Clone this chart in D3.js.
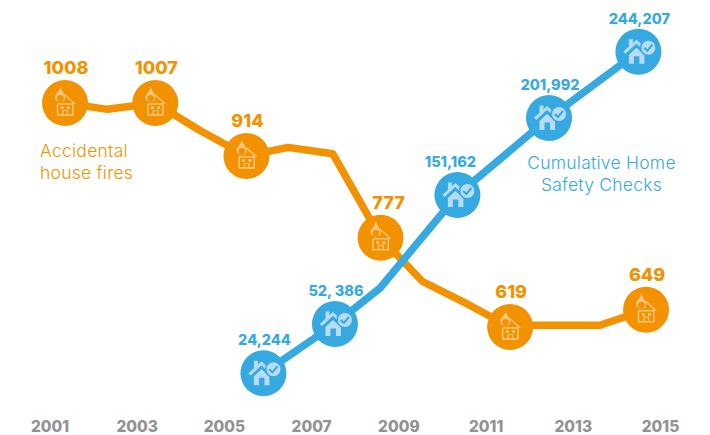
<!DOCTYPE html>
<html>
<head>
<meta charset="utf-8">
<script src="https://cdn.jsdelivr.net/npm/d3@7/dist/d3.min.js"></script>
<style>
    html, body { margin: 0; padding: 0; background: #ffffff; }
    svg { display: block; font-family: "Inter", "Open Sans", sans-serif; }
</style>
</head>
<body>
<svg id="chart" width="710" height="435"></svg>
<script>
// tick labels along the bottom
var tickYears = [2001, 2003, 2005, 2007, 2009, 2011, 2013, 2015];

// accidental house fires, heights
var fireSteps = [0, 0.95, 2.02, 3, 4.06, 4.99, 5.99, 7.06, 8, 9, 9.96, 10.45, 11.97, 13];
var fireValues = [1008, 997, 1008, 961, 916, 931, 920, 774, 698, 659, 619, 622, 622, 649];
var fireMarked = [0, 2, 4, 7, 10, 13];
var fireLabels = ["1008", "1007", "914", "777", "619", "649"];

// cumulative home safety checks, heights
var checkSteps = [4.44, 6.04, 7.05, 8.78, 10.83, 12.83];
var checkValues = [24244, 57965, 82590, 146200, 198900, 244207];
var checkMarked = [0, 1, 3, 4, 5];
var checkLabels = ["24,244", "52, 386", "151,162", "201,992", "244,207"];

var orange = "#f39200";
var blue = "#36a9e1";
var orangeIcon = "#fac880";
var blueIcon = "#b7dcf5";

var svg = d3.select("#chart");

var stepX = d3.scaleLinear().domain([0, 13]).range([65, 646]);
var tickX = d3.scalePoint().domain(tickYears).range([49.5, 660]);
var fireY = d3.scaleLinear().domain([619, 1008]).range([327, 103]);
var checkY = d3.scaleLinear().domain([24244, 244207]).range([373.3, 51.7]);

var line = d3.line();

// bottom axis, no line or tick marks, only the labels
var xAxis = d3.axisBottom(tickX).tickSize(0).tickPadding(0);
var axisG = svg.append("g").attr("transform", "translate(0,418)").call(xAxis);
axisG.select(".domain").remove();
axisG.selectAll("text")
    .attr("dy", 0)
    .attr("y", 14)
    .style("font-size", "15.5px")
    .style("font-weight", 800)
    .style("font-family", "Inter, sans-serif")
    .style("fill", "#929292");

var firePts = fireSteps.map(function(d, i) { return [stepX(d), fireY(fireValues[i])]; });
var checkPts = checkSteps.map(function(d, i) { return [stepX(d), checkY(checkValues[i])]; });

svg.append("path").attr("d", line(firePts))
    .attr("fill", "none").attr("stroke", orange).attr("stroke-width", 7.5).attr("stroke-linejoin", "round");
svg.append("path").attr("d", line(checkPts))
    .attr("fill", "none").attr("stroke", blue).attr("stroke-width", 7.5).attr("stroke-linejoin", "round");

// house with a flame on the roof
function fireIcon(g) {
    g.append("path").attr("d", "M-5,-5 L0,-8 L9,0 L7.8,0 L7.8,12 L-7.5,12 L-7.5,1")
        .attr("fill", "none").attr("stroke", orangeIcon).attr("stroke-width", 1.4);
    g.append("path").attr("d", "M-7.5,1 L7.8,1").attr("stroke", orangeIcon).attr("stroke-width", 1.4);
    g.append("rect").attr("x", -4.2).attr("y", 3.4).attr("width", 2.8).attr("height", 2.6).attr("fill", orangeIcon);
    g.append("rect").attr("x", 2).attr("y", 3.4).attr("width", 2.8).attr("height", 2.6).attr("fill", orangeIcon);
    g.append("path").attr("d", "M-2,12 L-2,7.5 L2.4,7.5 L2.4,12").attr("fill", "none").attr("stroke", orangeIcon).attr("stroke-width", 1.2);
    g.append("path").attr("d", "M-4.5,-17 C-4,-12 0.5,-9 0,-4 C-0.5,0 -9,0 -10,-5 C-10.5,-9 -5,-11 -4.5,-17 Z")
        .attr("fill", orangeIcon);
    g.append("circle").attr("cx", -4.6).attr("cy", -4.6).attr("r", 3.4).attr("fill", orange);
}

// house with a tick badge
function checkIcon(g) {
    g.append("path").attr("d", "M-14,1 L-2,-10 L10,1")
        .attr("fill", "none").attr("stroke", blueIcon).attr("stroke-width", 3);
    g.append("path").attr("d", "M-9.5,3 L-2,-4 L6,3 L6,12 L1,12 L1,4.5 L-4.5,4.5 L-4.5,12 L-9.5,12 Z")
        .attr("fill", blueIcon);
    g.append("rect").attr("x", -9.5).attr("y", -12.5).attr("width", 4).attr("height", 7).attr("fill", blueIcon);
    g.append("circle").attr("cx", 10).attr("cy", -4).attr("r", 7.8)
        .attr("fill", blueIcon).attr("stroke", blue).attr("stroke-width", 1.6);
    g.append("path").attr("d", "M5.8,-4 L9,-1 L14,-7").attr("fill", "none").attr("stroke", blue).attr("stroke-width", 2);
}

var fireG = svg.selectAll(".fire").data(fireMarked).enter().append("g")
    .attr("class", "fire")
    .attr("transform", function(d) { return "translate(" + firePts[d][0] + "," + firePts[d][1] + ")"; });
fireG.append("circle").attr("r", 23).attr("fill", orange);
fireG.each(function() { fireIcon(d3.select(this)); });
fireG.append("text").attr("y", -29)
    .attr("x", function(d, i) { return fireLabels[i] == "777" ? 8 : 1; })
    .attr("text-anchor", "middle")
    .style("font-size", "18px").style("font-weight", 800).attr("fill", orange)
    .text(function(d, i) { return fireLabels[i]; });

var checkG = svg.selectAll(".check").data(checkMarked).enter().append("g")
    .attr("class", "check")
    .attr("transform", function(d) { return "translate(" + checkPts[d][0] + "," + checkPts[d][1] + ")"; });
checkG.append("circle").attr("r", 23).attr("fill", blue);
checkG.each(function() { checkIcon(d3.select(this)); });
checkG.append("text").attr("y", -28)
    .attr("x", function(d, i) { return checkLabels[i] == "151,162" ? -7 : 1; })
    .attr("text-anchor", "middle")
    .style("font-size", "14.5px").style("font-weight", 800).attr("fill", blue)
    .text(function(d, i) { return checkLabels[i]; });

function note(lines, x, y, color, anchor) {
    var t = svg.append("text").attr("text-anchor", anchor).attr("fill", color)
        .style("font-size", "17.5px").style("font-weight", 300).style("letter-spacing", "0.25px");
    lines.forEach(function(s, i) {
        t.append("tspan").attr("x", x).attr("y", y + i * 22).text(s);
    });
}
note(["Accidental", "house fires"], 40, 157, orange, "start");
note(["Cumulative Home", "Safety Checks"], 601.5, 169, blue, "middle");
</script>
</body>
</html>
